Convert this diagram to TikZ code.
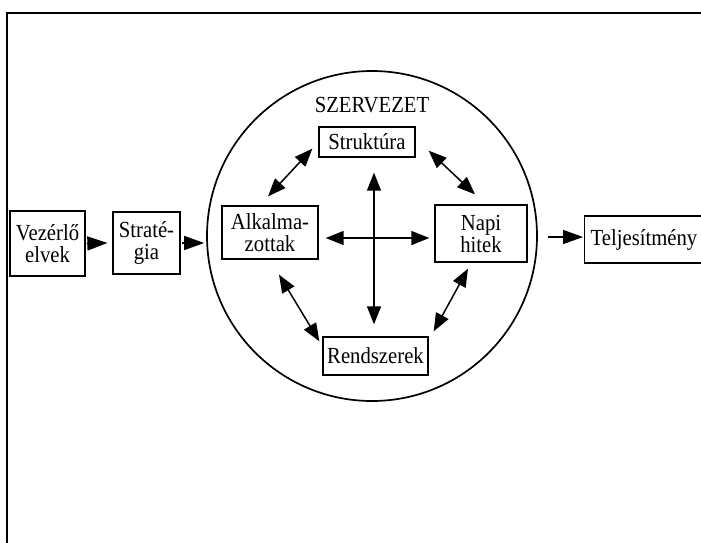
\documentclass[tikz,border=0pt]{standalone}
\usepackage{fontspec}
\setmainfont{Liberation Serif}[FakeStretch=0.9]
\usetikzlibrary{arrows.meta,calc,shapes.geometric}
\begin{document}
\begin{tikzpicture}[x=1pt,y=-1pt,
  font=\fontsize{23}{22}\selectfont,
  box/.style={draw,line width=1.3pt,inner sep=0pt,align=center},
  dbl/.style={line width=1.5pt,{Triangle[length=18pt,width=14pt]}-{Triangle[length=18pt,width=14pt]}},
  sgl/.style={line width=1.5pt,-{Triangle[length=20pt,width=14pt]}}]
\useasboundingbox (0,0) rectangle (701,542);
\draw[line width=1.3pt] (7,545) -- (7,13) -- (720,13);
\node[draw,circle,line width=1.7pt,minimum size=330pt,inner sep=0pt] (org) at (372,236) {};
\node (lbl) at (372,105) {SZERVEZET};
\node[box,minimum width=75pt,minimum height=65pt] (vez) at (47.5,243.5) {Vezérlő\\elvek};
\node[box,minimum width=67pt,minimum height=62pt] (stra) at (146.5,243) {Straté-\\gia};
\node[box,minimum width=96pt,minimum height=53pt] (alk) at (270,232.5) {Alkalma-\\zottak};
\node[box,minimum width=96pt,minimum height=30pt] (str) at (367,142) {Struktúra};
\node[box,minimum width=92pt,minimum height=57pt] (nap) at (481,233.5) {Napi\\hitek};
\node[box,minimum width=105pt,minimum height=38pt] (ren) at (375.5,356) {Rendszerek};
\node[box,minimum width=160pt,minimum height=47pt,anchor=west,text width=156pt,align=left] (tel) at (584,239.5) {\hspace{4pt}Teljesítmény};
\draw[dbl] ([shift={(-2,-9)}]alk.north) -- ([shift={(-6,-9)}]str.south west);
\draw[dbl] ([shift={(13,-7)}]str.south east) -- ([shift={(-6,-10)}]nap.north);
\draw[dbl] ([shift={(9,15)}]alk.south) -- ([shift={(-3,5)}]ren.north west);
\draw[dbl] ([shift={(-13,6)}]nap.south) -- ([shift={(5,-5)}]ren.north east);
\draw[dbl] ([shift={(7,15)}]str.south) -- ([shift={(-1.5,-12)}]ren.north);
\draw[dbl] ([shift={(7,5.5)}]alk.east) -- ([shift={(-5,4.5)}]nap.west);
\draw[sgl] ([shift={(1,0)}]vez.east) -- ([shift={(-5,0)}]stra.west);
\draw[sgl] ([shift={(1,0)}]stra.east) -- ([shift={(-2,0)}]stra.east -| org.west);
\draw[sgl] ([shift={(10,-2.5)}]org.east |- tel.west) -- ([shift={(-1,-2.5)}]tel.west);
\end{tikzpicture}
\end{document}
